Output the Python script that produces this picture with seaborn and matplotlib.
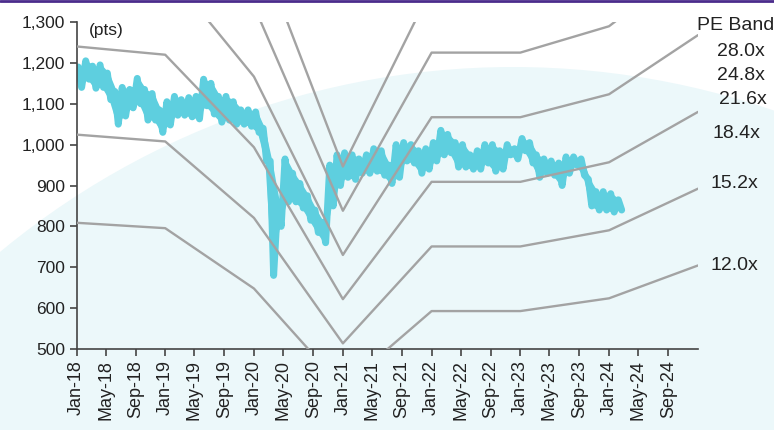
import matplotlib
matplotlib.use('Agg')
import matplotlib.pyplot as plt
from matplotlib.patches import Ellipse
from matplotlib.lines import Line2D
import numpy as np
import pandas as pd
import seaborn as sns

# Index level, monthly high / low band (Jan-18 .. Feb-24)
months = pd.date_range('2018-01-01', periods=74, freq='MS')
idx_high = [1190, 1205, 1192, 1195, 1175, 1130, 1140, 1135, 1162, 1135, 1125, 1085,
            1105, 1118, 1110, 1115, 1118, 1160, 1150, 1118, 1118, 1105, 1085, 1085,
            1080, 1040, 960, 860, 965, 930, 905, 875, 840, 810, 950, 975,
            980, 975, 965, 975, 990, 985, 950, 1000, 1005, 1000, 985, 990,
            1005, 1035, 1025, 1005, 1000, 975, 985, 1000, 1000, 985, 1000, 990,
            1015, 1005, 975, 965, 960, 955, 970, 970, 965, 915, 885, 885,
            880, 865]
idx_low = [1140, 1160, 1138, 1140, 1110, 1050, 1070, 1090, 1100, 1060, 1060, 1030,
           1048, 1072, 1072, 1068, 1063, 1095, 1075, 1055, 1060, 1050, 1050, 1045,
           1030, 960, 680, 800, 860, 860, 845, 815, 785, 760, 850, 900,
           920, 915, 930, 930, 935, 925, 905, 920, 960, 955, 930, 940,
           960, 975, 980, 945, 945, 940, 940, 955, 935, 940, 975, 965,
           985, 955, 920, 930, 925, 900, 930, 950, 925, 850, 840, 840,
           835, 840]

# forward EPS path used for the PE bands
eps_dates = pd.to_datetime(['2018-01-01', '2019-01-01', '2020-01-01', '2021-01-01',
                            '2022-01-01', '2023-01-01', '2024-01-01', '2025-01-01'])
eps_values = [67.4, 66.3, 54.0, 33.8, 49.4, 49.4, 52.0, 58.7]
pe_multiples = [12.0, 15.2, 18.4, 21.6, 24.8, 28.0]
pe_labels = ['12.0x', '15.2x', '18.4x', '21.6x', '24.8x', '28.0x']

y_ticks = [500, 600, 700, 800, 900, 1000, 1100, 1200, 1300]
x_ticks = pd.date_range('2018-01-01', '2024-09-01', freq='4MS')

# zig-zag between the monthly high and low so it looks like the daily band
rows = []
for m, hi, lo in zip(months, idx_high, idx_low):
    rows.append((m + pd.Timedelta(days=7), hi))
    rows.append((m + pd.Timedelta(days=21), lo))
df_px = pd.DataFrame(rows, columns=['date', 'value'])
mid_dates = months + pd.Timedelta(days=14)

sns.set_style('ticks')
plt.rcParams['font.family'] = ['Liberation Sans', 'DejaVu Sans']

W, H = 774, 430
fig = plt.figure(figsize=(W / 100, H / 100), dpi=100)
fig.patch.set_facecolor('white')

# soft background circle
bg = Ellipse((513 / W, 1 - 871 / H), width=2 * 804 / W, height=2 * 804 / H,
             transform=fig.transFigure, facecolor='#ECF8FA', edgecolor='none', zorder=-1)
fig.add_artist(bg)
fig.add_artist(Line2D([0, 1], [0.998, 0.998], transform=fig.transFigure,
                      color='#4B2C8C', lw=2))

ax = fig.add_axes([76.5 / W, 1 - 349 / H, (698 - 76.5) / W, (349 - 22) / H])
ax.set_facecolor('none')

ax.fill_between(mid_dates, idx_low, idx_high, color='#5ECFDF', lw=0, zorder=2)
sns.lineplot(data=df_px, x='date', y='value', sort=False, estimator=None,
             color='#5ECFDF', linewidth=5, ax=ax, zorder=2)

for mult in pe_multiples:
    df_band = pd.DataFrame({'date': eps_dates, 'value': np.array(eps_values) * mult})
    sns.lineplot(data=df_band, x='date', y='value', sort=False, estimator=None,
                 color='#A3A3A3', linewidth=1.7, ax=ax, zorder=3)

ax.set_xlim(pd.Timestamp('2018-01-01'), pd.Timestamp('2025-01-01'))
ax.set_ylim(500, 1300)
ax.set_yticks(y_ticks)
ax.set_yticklabels([f'{v:,}' for v in y_ticks], fontsize=12.5, color='#222222')
ax.set_xticks(x_ticks)
ax.set_xticklabels([d.strftime('%b-%y') for d in x_ticks], rotation=90, fontsize=13,
                   color='#222222')
ax.set_xlabel('')
ax.set_ylabel('')
for s in ['top', 'right']:
    ax.spines[s].set_visible(False)
for s in ['left', 'bottom']:
    ax.spines[s].set_color('#444444')
    ax.spines[s].set_linewidth(1.2)
ax.tick_params(axis='both', length=5, width=1.2, color='#444444', pad=3)

fig.text(89 / W, 1 - 31 / H, '(pts)', fontsize=12.5, va='center', color='#222222')
fig.text(697 / W, 1 - 26 / H, 'PE Band', fontsize=14, va='center', color='#222222')
label_pos = {'28.0x': (717, 52), '24.8x': (717, 76), '21.6x': (719, 100),
             '18.4x': (713, 133), '15.2x': (711, 183), '12.0x': (711, 265)}
for lab in pe_labels:
    x, y = label_pos[lab]
    fig.text(x / W, 1 - y / H, lab, fontsize=14, va='center', color='#222222')

fig.savefig('out.png', dpi=100)
